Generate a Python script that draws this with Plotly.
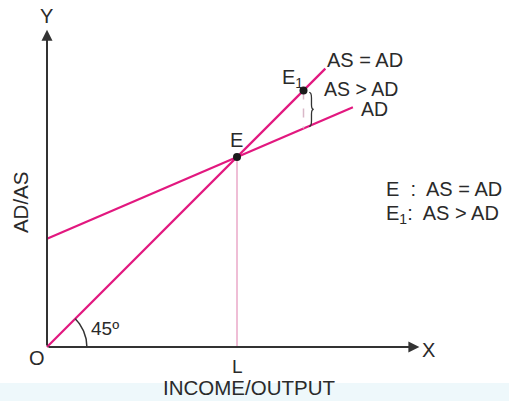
import numpy as np
import plotly.graph_objects as go

# ---- data (model units) ----
ad_intercept = 5.7
ad_slope = 0.43
as_end = 14.65          # end of 45-degree line (AS = AD)
ad_end = 16.1           # end of AD line
L_value = ad_intercept / (1 - ad_slope)   # equilibrium income (E)
E1_x = 13.5             # point E1 on the AS line
x_axis_end = 19.6
y_axis_end = 16.7

PINK = "#e2187f"
LIGHT_PINK = "#eaa8c8"
DARK = "#333333"
FONT = "Liberation Sans, Arial, sans-serif"

fig = go.Figure()

# 45-degree AS line
fig.add_trace(go.Scatter(x=[0, as_end], y=[0, as_end], mode="lines",
                         line=dict(color=PINK, width=2.2), hoverinfo="skip"))
# AD line
fig.add_trace(go.Scatter(x=[0, ad_end], y=[ad_intercept, ad_intercept + ad_slope * ad_end],
                         mode="lines", line=dict(color=PINK, width=2.2), hoverinfo="skip"))
# vertical from E to L
fig.add_trace(go.Scatter(x=[L_value, L_value], y=[0, L_value], mode="lines",
                         line=dict(color=LIGHT_PINK, width=1.5), hoverinfo="skip"))
# dashed from E1 to AD
ad_at_E1 = ad_intercept + ad_slope * E1_x
fig.add_trace(go.Scatter(x=[E1_x, E1_x], y=[E1_x, ad_at_E1], mode="lines",
                         line=dict(color="#d9b8c8", width=1.5, dash="dash"), hoverinfo="skip"))
# 45 degree arc
r = 2.1
t = np.linspace(0, np.pi / 4, 30)
fig.add_trace(go.Scatter(x=r * np.cos(t), y=r * np.sin(t), mode="lines",
                         line=dict(color=DARK, width=1.5), hoverinfo="skip"))
# points E and E1
fig.add_trace(go.Scatter(x=[L_value, E1_x], y=[L_value, E1_x], mode="markers",
                         marker=dict(color="#1a1a1a", size=8), hoverinfo="skip"))

# brace between E1 and AD
bx = E1_x + 0.3
top = E1_x - 0.1
bot = ad_at_E1 + 0.1
mid = (top + bot) / 2
w = 0.12
path = (f"M {bx},{top} Q {bx+w},{top} {bx+w},{top-0.3} L {bx+w},{mid+0.25} "
        f"Q {bx+w},{mid} {bx+2*w},{mid} Q {bx+w},{mid} {bx+w},{mid-0.25} "
        f"L {bx+w},{bot+0.3} Q {bx+w},{bot} {bx},{bot}")
fig.add_shape(type="path", path=path, xref="x", yref="y",
              line=dict(color=DARK, width=1.3))

# bottom light strip
fig.add_shape(type="rect", xref="paper", yref="paper", x0=0, x1=1, y0=0, y1=0.045,
              fillcolor="#eef8fb", line=dict(width=0), layer="below")

# axes with arrows
for (xx, yy) in [(x_axis_end, 0), (0, y_axis_end)]:
    fig.add_annotation(x=xx, y=yy, ax=0, ay=0, xref="x", yref="y", axref="x", ayref="y",
                       text="", showarrow=True, arrowhead=2, arrowsize=1.1,
                       arrowwidth=2, arrowcolor=DARK)

def label(x, y, text, size=20, xanchor="center", **kw):
    fig.add_annotation(x=x, y=y, xref="x", yref="y", text=text, showarrow=False,
                       xanchor=xanchor, yanchor="middle",
                       font=dict(family=FONT, size=size, color="#2a2a2a"), **kw)

label(-0.05, 17.4, "Y")
label(20.1, -0.15, "X")
label(-0.55, -0.6, "O")
label(L_value, -1.0, "L", size=19)
label(10.62, -2.13, "INCOME/OUTPUT", size=20.5)
label(-1.4, 7.65, "AD/AS", size=20.5, textangle=-90)
label(3.05, 1.0, "45º", size=19)
label(L_value - 0.05, 10.9, "E")
label(12.9, 14.15, "E<sub>1</sub>")
label(14.65, 15.1, "AS = AD", xanchor="left")
label(14.45, 13.6, "AS > AD", xanchor="left", size=19.5)
label(16.4, 12.55, "AD", xanchor="left", size=19.5)
label(17.75, 8.32, "E  :  AS = AD", xanchor="left")
label(17.75, 6.95, "E<sub>1</sub>:  AS > AD", xanchor="left")

fig.update_layout(
    width=509, height=401, margin=dict(l=0, r=0, t=0, b=0),
    paper_bgcolor="white", plot_bgcolor="white", showlegend=False,
    xaxis=dict(range=[-47 / 19, 462 / 19], visible=False, fixedrange=True),
    yaxis=dict(range=[-54 / 19, 347 / 19], visible=False, fixedrange=True),
)

fig.write_html("out.html", config={"displayModeBar": False},
               post_script="document.body.style.margin='0px';document.body.style.overflow='hidden';")
